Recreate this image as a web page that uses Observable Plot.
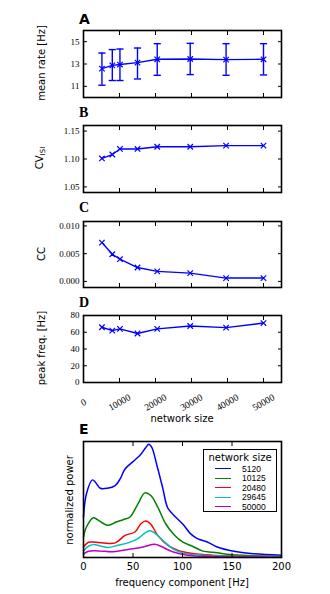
<!DOCTYPE html>
<html><head><meta charset="utf-8">
<script src="https://cdn.jsdelivr.net/npm/d3@7"></script>
<script src="https://cdn.jsdelivr.net/npm/@observablehq/plot@0.6"></script>
<style>
body{margin:0;background:#fff;}
#root{position:relative;width:330px;height:594px;overflow:hidden;font-family:"DejaVu Sans",sans-serif;}
#root svg{position:absolute;left:0;overflow:visible;}
.pl{position:absolute;font-weight:bold;font-size:14px;line-height:1;}
.yl{position:absolute;font-size:10px;white-space:nowrap;transform:translate(-50%,-50%) rotate(-90deg);line-height:1;}
.xl{position:absolute;font-size:10px;white-space:nowrap;transform:translate(-50%,-50%);line-height:1;}
.leg{position:absolute;background:#fff;border:1.5px solid #000;font-size:10px;box-sizing:border-box;}
.leg .t{text-align:center;margin-top:2px;margin-bottom:1px;}
.leg .r{display:flex;align-items:center;height:9.5px;font-family:"Liberation Sans",sans-serif;font-size:8.5px;}
.leg .ln{display:inline-block;width:16px;height:0;border-top:1.6px solid;margin-left:11px;margin-right:11px;}
</style></head>
<body><div id="root"></div>
<script>
// ---- data ----
const sizes = [5120, 8000, 10125, 15000, 20480, 29645, 39605, 50000];
const rateMean = [12.59, 12.88, 12.95, 13.12, 13.42, 13.45, 13.39, 13.42];
const rateLo = [11.10, 11.52, 11.52, 11.66, 11.99, 12.05, 11.99, 12.02];
const rateHi = [13.98, 14.29, 14.34, 14.43, 14.82, 14.85, 14.82, 14.82];
const cvIsi = [1.101, 1.108, 1.118, 1.118, 1.122, 1.122, 1.124, 1.124];
const cc = [0.0070, 0.0049, 0.0040, 0.0025, 0.0018, 0.0015, 0.0006, 0.0006];
const peakFreq = [66, 62, 64, 58.5, 64, 67.5, 65.5, 71];
const sizeTicks = [0, 10000, 20000, 30000, 40000, 50000];
const rateTicks = [11, 13, 15];
const cvTicks = [1.05, 1.10, 1.15];
const ccTicks = [0.000, 0.005, 0.010];
const peakTicks = [0, 20, 40, 60, 80];
const freqTicks = [0, 50, 100, 150, 200];

const specSizes = ["5120", "10125", "20480", "29645", "50000"];
const specColors = ["#0000ff", "#008000", "#ff0000", "#00bfbf", "#bf00bf"];
const spec5120 = [[0,34.9],[3,55],[9,66.9],[12,64.9],[17,59.7],[24,59.7],[32,62],[37,67.7],[42,76.3],[51,83.4],[58,89.1],[63,94.9],[66,97.7],[69,94.9],[74,80],[80,60],[85,42.9],[91,36.6],[100,29.1],[108,20.6],[115,16.3],[125,13.4],[135,9.1],[152,5.4],[169,3.4],[200,2]];
const spec10125 = [[0,17.7],[3,26.3],[10,34.3],[14,32.6],[25,27.7],[33,30.6],[40,32.6],[47,34.9],[55,46.3],[62,55.7],[68,53.4],[75,43.4],[83,29.1],[92,19.1],[100,13.4],[110,9.7],[120,5.7],[135,4],[150,2.3],[200,0.9]];
const spec20480 = [[0,9.1],[5,13.1],[10,13.4],[20,12.6],[32,12.6],[42,19.1],[52,22],[58,29.1],[63,31.4],[68,28.6],[75,19.1],[85,10.6],[95,6.3],[110,3.4],[130,2],[200,0.6]];
const spec29645 = [[0,5.7],[5,9.7],[10,11.1],[18,9.7],[25,8.6],[35,10.6],[45,12.6],[55,16.3],[62,21.1],[67,23.1],[72,21.1],[80,14.9],[90,7.7],[100,4],[120,2],[200,0.6]];
const spec50000 = [[0,2.9],[5,5.4],[15,5.7],[30,4.9],[45,6.9],[60,9.1],[72,11.4],[78,9.7],[90,4.9],[105,2],[130,0.9],[200,0.3]];
const specs = [spec5120, spec10125, spec20480, spec29645, spec50000];

// ---- build ----
const root = document.getElementById("root");
const rows = sizes.map((s, i) => ({size: s, rate: rateMean[i], lo: rateLo[i], hi: rateHi[i], cv: cvIsi[i], cc: cc[i], peak: peakFreq[i]}));
const blue = "#0000ff";
const capSymbol = {draw(ctx, size) { const r = 3.6; ctx.moveTo(-r, 0); ctx.lineTo(r, 0); }};
const serif = {fontFamily: "'Liberation Serif', serif", fontSize: "9px", color: "#000"};

function place(svg, top) { svg.style.top = top + "px"; root.appendChild(svg); }
function html(cls, text, x, y) { const d = document.createElement("div"); d.className = cls; d.innerHTML = text; d.style.left = x + "px"; d.style.top = y + "px"; root.appendChild(d); return d; }

function frameAxes(yTicks, yFmt) {
  return [
    Plot.axisY({anchor: "left", ticks: yTicks, tickSize: -4, tickPadding: 8, tickFormat: yFmt, label: null}),
    Plot.axisY({anchor: "right", ticks: yTicks, tickSize: -4, tickFormat: () => "", label: null}),
    Plot.axisX({anchor: "top", ticks: sizeTicks, tickSize: -4, tickFormat: () => "", label: null}),
    Plot.axisX({anchor: "bottom", ticks: sizeTicks, tickSize: -4, tickFormat: () => "", label: null}),
    Plot.frame({stroke: "#000", strokeWidth: 1.6})
  ];
}
function sizePlot(height, marginBottom, yDomain, yTicks, yFmt, yField, extra) {
  return Plot.plot({
    width: 330, height, marginLeft: 83, marginRight: 49, marginTop: 10, marginBottom,
    style: serif,
    x: {domain: [0, 55000], label: null},
    y: {domain: yDomain, label: null},
    marks: [
      ...extra,
      Plot.line(rows, {x: "size", y: yField, stroke: blue, strokeWidth: 1.4}),
      Plot.dot(rows, {x: "size", y: yField, symbol: "times", r: 2.6, stroke: blue, strokeWidth: 1.2}),
      ...frameAxes(yTicks, yFmt)
    ]
  });
}

// A
place(sizePlot(80, 3, [10, 16], rateTicks, d3.format("d"), "rate", [
  Plot.ruleX(rows, {x: "size", y1: "lo", y2: "hi", stroke: blue, strokeWidth: 1.4}),
  Plot.dot(rows, {x: "size", y: "lo", symbol: capSymbol, stroke: blue, strokeWidth: 1.4}),
  Plot.dot(rows, {x: "size", y: "hi", symbol: capSymbol, stroke: blue, strokeWidth: 1.4})
]), 20);
// B
place(sizePlot(80, 3, [1.04, 1.16], cvTicks, d3.format(".2f"), "cv", []), 115);
// C
place(sizePlot(79, 3, [-0.0011, 0.0108], ccTicks, d3.format(".3f"), "cc", []), 211);
// D
place(Plot.plot({
  width: 330, height: 115, marginLeft: 83, marginRight: 49, marginTop: 10, marginBottom: 38,
  style: serif,
  x: {domain: [0, 55000], label: null},
  y: {domain: [0, 80], label: null},
  marks: [
    Plot.line(rows, {x: "size", y: "peak", stroke: blue, strokeWidth: 1.4}),
    Plot.dot(rows, {x: "size", y: "peak", symbol: "times", r: 2.6, stroke: blue, strokeWidth: 1.2}),
    ...frameAxes(peakTicks, d3.format("d")),
    Plot.text(sizeTicks, {x: d => d, frameAnchor: "bottom", dy: 20, rotate: -30, text: d => String(d), textAnchor: "middle", lineAnchor: "middle", fontFamily: "'Liberation Serif', serif", fontSize: 9.5})
  ]
}), 305);

// E
place(Plot.plot({
  width: 330, height: 156, marginLeft: 83, marginRight: 49, marginTop: 10, marginBottom: 30,
  style: {fontFamily: "'DejaVu Sans', sans-serif", fontSize: "10px", color: "#000"},
  x: {domain: [0, 200], label: null},
  y: {domain: [0, 100], axis: null},
  marks: [
    ...specSizes.map((s, k) => Plot.line(specs[k], {x: d => d[0], y: d => d[1], stroke: specColors[k], strokeWidth: 1.5, curve: "catmull-rom"})),
    Plot.axisX({anchor: "bottom", ticks: freqTicks, tickSize: -4, tickPadding: 9, tickFormat: d3.format("d"), label: null}),
    Plot.axisX({anchor: "top", ticks: freqTicks, tickSize: -4, tickFormat: () => "", label: null}),
    Plot.frame({stroke: "#000", strokeWidth: 1.6})
  ]
}), 431);

// panel letters
html("pl", "A", 79, 12);
html("pl", "B", 79, 106).style.fontFamily = "'Liberation Serif', serif";
html("pl", "C", 79, 201).style.fontFamily = "'Liberation Serif', serif";
html("pl", "D", 79, 296).style.fontFamily = "'Liberation Serif', serif";
html("pl", "E", 79, 422);

// axis labels
html("yl", "mean rate [Hz]", 42, 63);
html("yl", "CV<sub style='font-size:7px;vertical-align:-2px'>ISI</sub>", 41, 158);
html("yl", "CC", 42, 254);
html("yl", "peak freq. [Hz]", 42, 348);
html("yl", "normalized power", 70, 500);
html("xl", "network size", 182, 419);
html("xl", "frequency component [Hz]", 182, 583);

// legend
const leg = document.createElement("div");
leg.className = "leg";
leg.style.left = "203px"; leg.style.top = "449px"; leg.style.width = "74px"; leg.style.height = "63px";
let h = "<div class='t'>network size</div>";
specSizes.forEach((s, k) => { h += `<div class='r'><span class='ln' style='border-color:${specColors[k]}'></span><span>${s}</span></div>`; });
leg.innerHTML = h;
root.appendChild(leg);
</script></body></html>
